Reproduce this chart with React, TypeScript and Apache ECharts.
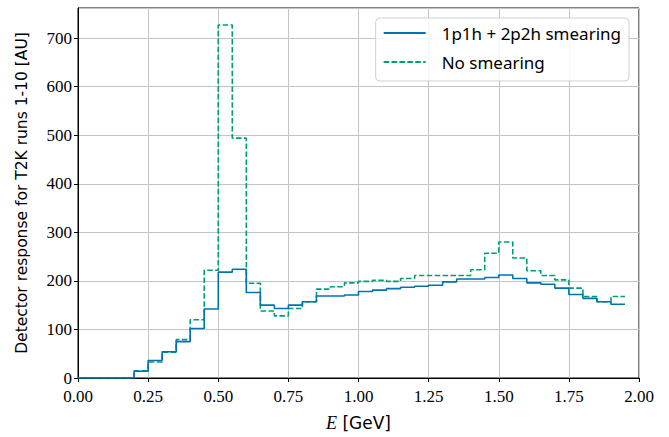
import React, { useEffect, useRef } from "react";
import * as echarts from "echarts";

const binStarts = [
  0.0, 0.05, 0.1, 0.15, 0.2, 0.25, 0.3, 0.35, 0.4, 0.45,
  0.5, 0.55, 0.6, 0.65, 0.7, 0.75, 0.8, 0.85, 0.9, 0.95,
  1.0, 1.05, 1.1, 1.15, 1.2, 1.25, 1.3, 1.35, 1.4, 1.45,
  1.5, 1.55, 1.6, 1.65, 1.7, 1.75, 1.8, 1.85, 1.9,
];
const binEnd = 1.95;

const smeared = [
  0, 0, 0, 0, 14, 36, 54, 75, 102, 142,
  218, 224, 176, 150, 143, 150, 157, 169, 169, 171,
  178, 181, 184, 187, 189, 191, 198, 204, 204, 207,
  212, 205, 196, 193, 185, 172, 164, 157, 152,
];
const noSmearing = [
  0, 0, 0, 0, 15, 33, 53, 79, 120, 222,
  727, 494, 195, 138, 128, 143, 157, 183, 188, 196,
  199, 201, 199, 205, 211, 211, 211, 211, 223, 257,
  280, 247, 221, 211, 202, 185, 168, 157, 168,
];

const seriesNames = ["1p1h + 2p2h smearing", "No smearing"];
const xTicks = { min: 0, max: 2, interval: 0.25 };
const yTicks = { min: 0, max: 762, interval: 100 };

function toSteps(vals: number[]) {
  const pts = binStarts.map((x, i) => [x, vals[i]]);
  pts.push([binEnd, vals[vals.length - 1]]);
  return pts;
}

export default function App() {
  const ref = useRef<HTMLDivElement>(null);
  useEffect(() => {
    if (!ref.current) return;
    const chart = echarts.init(ref.current, undefined, { renderer: "svg" });
    const serif = "'Liberation Serif', 'DejaVu Serif', serif";
    const sans = "'DejaVu Sans', 'Noto Sans', sans-serif";
    chart.setOption({
      animation: false,
      backgroundColor: "#fff",
      grid: {
        left: 78,
        right: 30,
        top: 8,
        bottom: 57,
        show: true,
        borderColor: "#000",
        borderWidth: 1,
        backgroundColor: "transparent",
      },
      legend: {
        orient: "vertical",
        right: 40,
        top: 18,
        padding: [5, 8, 9, 7],
        itemWidth: 42,
        itemHeight: 14,
        itemGap: 9,
        backgroundColor: "rgba(255,255,255,0.85)",
        borderColor: "#d0d0d0",
        borderWidth: 1,
        borderRadius: 4,
        itemStyle: { opacity: 0 },
        textStyle: {
          fontFamily: "'Noto Sans', sans-serif",
          fontSize: 17,
          lineHeight: 20,
          color: "#000",
          padding: [0, 0, 0, 11],
        },
        data: seriesNames,
      },
      xAxis: {
        type: "value",
        min: xTicks.min,
        max: xTicks.max,
        interval: xTicks.interval,
        name: "{it|E} [GeV]",
        nameLocation: "middle",
        nameGap: 36,
        nameTextStyle: {
          fontFamily: sans,
          fontSize: 17,
          color: "#000",
          rich: {
            it: { fontFamily: serif, fontStyle: "italic", fontSize: 18, color: "#000" },
          },
        },
        axisLine: { show: true, onZero: false, lineStyle: { color: "#000", width: 1 } },
        axisTick: { show: true, length: 4, lineStyle: { color: "#000" } },
        axisLabel: {
          fontFamily: serif,
          fontSize: 17,
          color: "#000",
          margin: 10,
          formatter: (v: number) => v.toFixed(2),
        },
        splitLine: { show: true, lineStyle: { color: "#c4c4c4", width: 1 } },
      },
      yAxis: {
        type: "value",
        min: yTicks.min,
        max: yTicks.max,
        interval: yTicks.interval,
        name: "Detector response for T2K runs 1-10 [AU]",
        nameLocation: "middle",
        nameGap: 48,
        nameTextStyle: { fontFamily: sans, fontSize: 15.5, color: "#000" },
        axisLine: { show: true, lineStyle: { color: "#000", width: 1 } },
        axisTick: { show: true, length: 4, lineStyle: { color: "#000" } },
        axisLabel: {
          fontFamily: serif,
          fontSize: 17,
          color: "#000",
          margin: 6,
          showMaxLabel: false,
        },
        splitLine: { show: true, lineStyle: { color: "#c4c4c4", width: 1 } },
      },
      series: [
        {
          name: seriesNames[0],
          type: "line",
          step: "end",
          symbol: "none",
          data: toSteps(smeared),
          lineStyle: { color: "#0072B2", width: 1.6 },
          itemStyle: { color: "#0072B2" },
          z: 3,
        },
        {
          name: seriesNames[1],
          type: "line",
          step: "end",
          symbol: "none",
          data: toSteps(noSmearing),
          lineStyle: { color: "#009E73", width: 1.6, type: [5.5, 2.4] },
          itemStyle: { color: "#009E73" },
          z: 2,
        },
      ],
    });
    return () => chart.dispose();
  }, []);
  return <div ref={ref} style={{ width: 669, height: 437, position: "absolute", left: 0, top: 0 }} />;
}
